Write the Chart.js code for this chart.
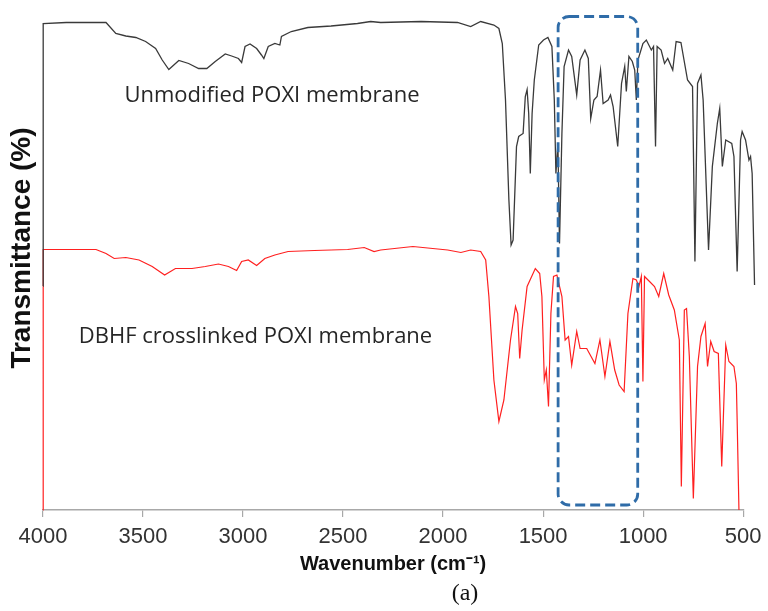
<!DOCTYPE html>
<html>
<head>
<meta charset="utf-8">
<script src="https://cdn.jsdelivr.net/npm/chart.js@4/dist/chart.umd.min.js"></script>
<style>
html,body{margin:0;padding:0;background:#fff;}
#wrap{width:768px;height:611px;position:relative;}
canvas{display:block;}
</style>
</head>
<body>
<div id="wrap"><canvas id="c" width="768" height="611"></canvas></div>
<script>
// ---------------- data ----------------
const xTickValues = [4000, 3500, 3000, 2500, 2000, 1500, 1000, 500];
const seriesNames = ['Unmodified POXI membrane', 'DBHF crosslinked POXI membrane'];

const unmodifiedWavenumber = [4000,3999,3884,3685,3636,3586,3536,3487,3437,3404,3371,3321,3272,3222,3181,3139,3089,3057,3023,3007,2990,2965,2932,2908,2896,2874,2841,2816,2808,2759,2676,2560,2428,2362,2312,2110,1928,1862,1812,1746,1721,1704,1688,1671,1660,1650,1633,1622,1600,1589,1580,1572,1564,1555,1544,1522,1498,1476,1456,1444,1436,1426,1418,1406,1395,1373,1357,1332,1315,1291,1274,1262,1246,1230,1213,1200,1175,1163,1150,1127,1108,1092,1084,1071,1054,1042,1034,1026,1001,984,959,948,938,930,910,893,877,852,835,811,778,753,741,728,711,700,673,654,629,617,604,587,557,546,530,513,505,488,471,463,455,443];
const unmodifiedTransmittance = [44.8,97.3,97.5,97.5,95.3,94.8,94.5,93.7,92.3,90,88.1,89.9,89.3,88.3,88.3,89.7,91.2,90.8,90.3,89.5,92.7,93.2,92.3,91,90.3,92.7,93.3,93,94.7,95.7,96.5,96.8,97.3,97.7,97.5,97.7,97.5,96.7,97.7,97,96.3,93.3,82,62,53,54,72.7,74.7,75.3,82.7,84.1,79.3,67.3,79.3,86,93,94,94.5,92.7,82,67.3,73.3,53.3,75.3,88.7,92,90.7,83,90,92,90.3,78.3,82,82.7,88,81.3,82,83,80.7,72.7,85.3,88.7,83.7,90.7,89.7,88,82,90,93.3,94,92,92.7,72.7,92.7,92,89.3,90.3,88,93.7,93.5,86,84.7,49.7,85.3,87,82,52,68.7,77.3,80.3,68.7,74,73.3,70.7,47.7,74,75.7,74,70,70.7,67.3,45];

const crosslinkedWavenumber = [4000,3999,3735,3685,3644,3586,3520,3454,3392,3338,3255,3189,3123,3073,3032,3007,2974,2932,2891,2841,2775,2643,2477,2394,2345,2312,2151,1977,1911,1862,1812,1787,1771,1746,1721,1696,1663,1638,1627,1617,1605,1580,1539,1517,1506,1494,1484,1473,1461,1448,1431,1406,1390,1373,1357,1332,1315,1282,1241,1216,1191,1166,1142,1120,1095,1076,1051,1034,1021,1009,1001,993,968,943,922,897,872,844,819,809,794,783,769,749,728,711,690,678,662,645,624,607,587,571,546,534,530,521];
const crosslinkedTransmittance = [0,52.1,52.1,51.3,50.3,50.5,50,48.7,47,48.3,48.3,48.7,49.2,48.7,47.9,49.7,50,48.9,50.3,51,51.7,51.9,52.1,52.5,51.7,52,52.7,52,51.5,52,51.7,50,42.7,26,17.7,22,34,40.7,39.3,30.3,36,44.7,48.3,47.3,42.7,26,28,20.7,39.3,46.7,47,42.7,34,34.7,29,35.7,32.3,32.3,29.3,34,26.7,33.7,28,25,23.7,39.3,46.3,46,44.7,46.7,25.7,46.7,45.7,44.7,42.7,47.3,43,40,34,4.7,40,40.3,30.7,2.3,28.7,34.7,37.3,28.7,33.7,31.7,31.3,8.7,33,29.7,28.7,25.3,18,0];

// highlighted region (wavenumber range) and label anchors
const highlightRange = {from: 1425, to: 1027, top: 98.7, bottom: 1};
const labelAnchors = [{x: 3593, y: 81.7}, {x: 3821, y: 33.4}];

// ---------------- plugin ----------------
const decorations = {
  id: 'decorations',
  afterDatasetsDraw(chart) {
    const {ctx, scales: {x, y}} = chart;
    const x1 = x.getPixelForValue(highlightRange.from);
    const x2 = x.getPixelForValue(highlightRange.to);
    const y1 = y.getPixelForValue(highlightRange.top);
    const y2 = y.getPixelForValue(highlightRange.bottom);
    ctx.save();
    ctx.setLineDash([10, 5]);
    ctx.lineWidth = 2.8;
    ctx.strokeStyle = '#2f6ca8';
    ctx.beginPath();
    ctx.roundRect(Math.min(x1, x2), y1, Math.abs(x2 - x1), y2 - y1, 11);
    ctx.stroke();
    ctx.restore();
    ctx.save();
    ctx.fillStyle = '#262626';
    ctx.font = '22px "Open Sans"';
    ctx.textAlign = 'left';
    ctx.textBaseline = 'alphabetic';
    seriesNames.forEach((name, i) => {
      ctx.fillText(name, x.getPixelForValue(labelAnchors[i].x), y.getPixelForValue(labelAnchors[i].y));
    });
    ctx.restore();
  },
  afterDraw(chart) {
    const {ctx} = chart;
    ctx.save();
    ctx.translate(22, 248);
    ctx.rotate(-Math.PI / 2);
    ctx.font = 'bold 28px "Liberation Sans"';
    ctx.fillStyle = '#111';
    ctx.textAlign = 'center';
    ctx.textBaseline = 'middle';
    ctx.fillText('Transmittance (%)', 0, 0);
    ctx.restore();
    ctx.save();
    ctx.font = '24px "Liberation Serif"';
    ctx.fillStyle = '#111';
    ctx.textAlign = 'center';
    ctx.textBaseline = 'middle';
    ctx.fillText('(a)', 465, 594);
    ctx.restore();
  }
};

const toPoints = (xs, ys) => xs.map((w, i) => ({x: w, y: ys[i]}));

new Chart(document.getElementById('c'), {
  type: 'line',
  data: {
    datasets: [
      {
        label: seriesNames[0],
        data: toPoints(unmodifiedWavenumber, unmodifiedTransmittance),
        borderColor: '#3a3a3a',
        borderWidth: 1.3,
        pointRadius: 0,
        tension: 0,
        fill: false,
        clip: false
      },
      {
        label: seriesNames[1],
        data: toPoints(crosslinkedWavenumber, crosslinkedTransmittance),
        borderColor: '#ff2020',
        borderWidth: 1.2,
        pointRadius: 0,
        tension: 0,
        fill: false,
        clip: false
      }
    ]
  },
  options: {
    responsive: false,
    animation: false,
    devicePixelRatio: 1,
    layout: {autoPadding: false, padding: {left: 43, right: 20, top: 10, bottom: 35}},
    plugins: {legend: {display: false}, tooltip: {enabled: false}},
    scales: {
      x: {
        type: 'linear',
        reverse: true,
        min: 500,
        max: 4000,
        afterBuildTicks: (axis) => { axis.ticks = xTickValues.map(v => ({value: v})); },
        ticks: {
          color: '#333',
          font: {family: '"Liberation Sans"', size: 22},
          padding: 6.5,
          maxRotation: 0,
          autoSkip: false,
          callback: (v) => String(v)
        },
        grid: {display: true, drawOnChartArea: false, drawTicks: true, tickLength: 7, color: '#a8a8a8', lineWidth: 1.2},
        border: {display: true, color: '#a8a8a8', width: 1.5},
        title: {
          display: true,
          text: 'Wavenumber (cm\u207B\u00B9)',
          color: '#111',
          font: {family: '"Liberation Sans"', size: 20, weight: 'bold'},
          padding: {top: -4.4, bottom: 0}
        }
      },
      y: {
        display: false,
        min: 0,
        max: 100
      }
    }
  },
  plugins: [decorations]
});
</script>
</body>
</html>
